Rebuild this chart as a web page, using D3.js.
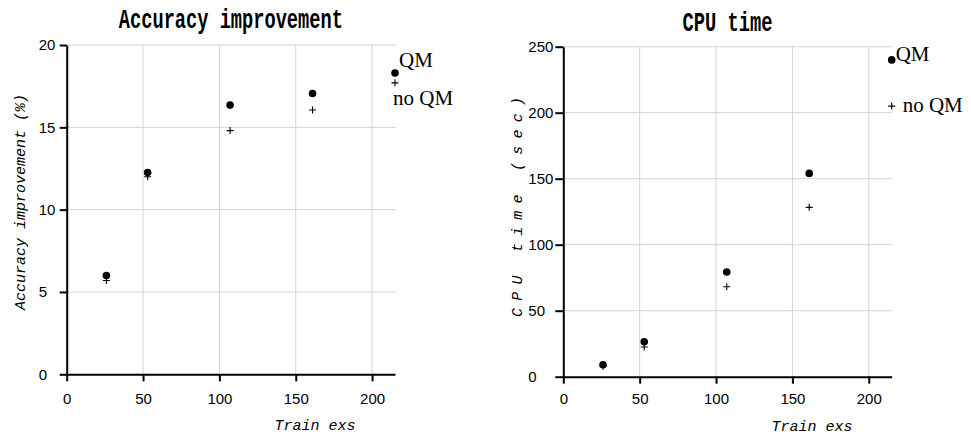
<!DOCTYPE html>
<html>
<head>
<meta charset="utf-8">
<script src="https://cdn.jsdelivr.net/npm/d3@7"></script>
<style>
  body { margin: 0; background: #fff; }
  svg { display: block; }
</style>
</head>
<body>
<div id="plot"></div>
<script>
// data
var trainExs = [26, 53, 107, 161, 215];
var accQM = [6.0, 12.25, 16.35, 17.05, 18.3];
var accNoQM = [5.7, 12.0, 14.8, 16.05, 17.7];
var cpuQM = [9, 26.5, 79.3, 154, 240];
var cpuNoQM = [8, 22.5, 68.2, 128.3, 205];
var xTicks = [0, 50, 100, 150, 200];
var accTicks = [0, 5, 10, 15, 20];
var cpuTicks = [0, 50, 100, 150, 200, 250];
var seriesNames = ["QM", "no QM"];

var width = 971, height = 437;
var mono = "'Liberation Mono', 'Courier New', monospace";
var svg = d3.select("#plot").append("svg")
    .attr("width", width)
    .attr("height", height);

function drawPanel(p) {
    var x = d3.scaleLinear().domain([0, 215]).range([p.left, p.right]);
    var y = d3.scaleLinear().domain([0, p.yMax]).range([p.bottom, p.top]);
    var g = svg.append("g");

    // grid
    g.selectAll(".vgrid").data(xTicks.filter(function (d) { return d > 0; }))
        .enter().append("line")
        .attr("x1", function (d) { return x(d); }).attr("x2", function (d) { return x(d); })
        .attr("y1", p.bottom).attr("y2", p.top)
        .attr("stroke", "#d3d3d3").attr("stroke-width", 1);
    g.selectAll(".hgrid").data(p.yTicks.filter(function (d) { return d > 0; }))
        .enter().append("line")
        .attr("x1", p.left).attr("x2", p.right + 1)
        .attr("y1", function (d) { return y(d); }).attr("y2", function (d) { return y(d); })
        .attr("stroke", "#d3d3d3").attr("stroke-width", 1);

    // axes
    var xAxis = g.append("g").attr("transform", "translate(0," + p.bottom + ")")
        .call(d3.axisBottom(x).tickValues(xTicks).tickSizeInner(7).tickSizeOuter(0).tickPadding(p.xPad));
    var yAxis = g.append("g").attr("transform", "translate(" + p.left + ",0)")
        .call(d3.axisLeft(y).tickValues(p.yTicks).tickSizeInner(p.yTick).tickSizeOuter(0));
    [xAxis, yAxis].forEach(function (a) {
        a.select(".domain").attr("stroke", "#000").attr("stroke-width", 2);
        a.selectAll(".tick line").attr("stroke", "#000").attr("stroke-width", 2);
        a.selectAll("text").attr("fill", "#000")
            .style("font-family", "'Liberation Sans', Arial, sans-serif").style("font-size", "15px");
    });
    yAxis.selectAll("text").attr("text-anchor", "start").attr("x", -p.yLabOff);

    // points
    g.selectAll(".dot").data(trainExs).enter().append("circle")
        .attr("cx", function (d) { return x(d); })
        .attr("cy", function (d, i) { return y(p.qm[i]); })
        .attr("r", 3.8).attr("fill", "#000");
    g.selectAll(".plus").data(trainExs).enter().append("path")
        .attr("d", function (d, i) {
            var cx = x(d), cy = y(p.noqm[i]);
            return "M" + (cx - 3.5) + "," + cy + "H" + (cx + 3.5) + "M" + cx + "," + (cy - 3.5) + "V" + (cy + 3.5);
        })
        .attr("stroke", "#000").attr("stroke-width", 1.1).attr("fill", "none");

    // labels at the last point
    var last = trainExs.length - 1;
    var serif = "'Liberation Serif', 'Times New Roman', serif";
    g.append("text")
        .attr("x", x(trainExs[last]) + p.qmDx).attr("y", y(p.qm[last]) + p.qmDy)
        .style("font-family", serif).style("font-size", "21px")
        .text(seriesNames[0]);
    g.append("text")
        .attr("x", x(trainExs[last]) + p.noDx).attr("y", y(p.noqm[last]) + p.noDy)
        .style("font-family", serif).style("font-size", "21px")
        .text(seriesNames[1]);

    // title
    g.append("text")
        .attr("x", (p.left + p.right) / 2).attr("y", p.titleY)
        .attr("text-anchor", "middle")
        .attr("textLength", p.titleLen).attr("lengthAdjust", "spacingAndGlyphs")
        .style("font-family", mono)
        .style("font-weight", "bold").style("font-size", "27px")
        .text(p.title);

    // y axis title
    var yl = g.append("text")
        .attr("transform", "translate(" + p.yLabX + "," + p.yLabBottom + ") rotate(-90)")
        .attr("text-anchor", "start")
        .style("font-family", mono)
        .style("font-style", "italic").style("font-size", "15px")
        .text(p.yLabel);
    if (p.yLabLen) yl.attr("textLength", p.yLabLen).attr("lengthAdjust", "spacing");

    g.append("text")
        .attr("x", p.xLabX).attr("y", p.xLabY)
        .attr("text-anchor", "middle")
        .style("font-family", mono)
        .style("font-style", "italic").style("font-size", "15px")
        .text("Train exs");
}

drawPanel({
    left: 66.7, right: 395, top: 45, bottom: 374.3, yMax: 20, yTicks: accTicks,
    qm: accQM, noqm: accNoQM, yTick: 7, yLabOff: 28, xPad: 12,
    qmDx: 4, qmDy: -6, noDx: -2, noDy: 22,
    title: "Accuracy improvement", titleY: 28, titleLen: 224,
    yLabel: "Accuracy improvement (%)", yLabLen: 0, yLabX: 25, yLabBottom: 310,
    xLabX: 315, xLabY: 430
});
drawPanel({
    left: 563.3, right: 891.7, top: 46.7, bottom: 376.7, yMax: 250, yTicks: cpuTicks,
    qm: cpuQM, noqm: cpuNoQM, yTick: 8, yLabOff: 35, xPad: 10,
    qmDx: 4, qmDy: 1, noDx: 11, noDy: 6,
    title: "CPU time", titleY: 31, titleLen: 90,
    yLabel: "CPU time (sec)", yLabLen: 220, yLabX: 522, yLabBottom: 317,
    xLabX: 812, xLabY: 431
});
</script>
</body>
</html>
